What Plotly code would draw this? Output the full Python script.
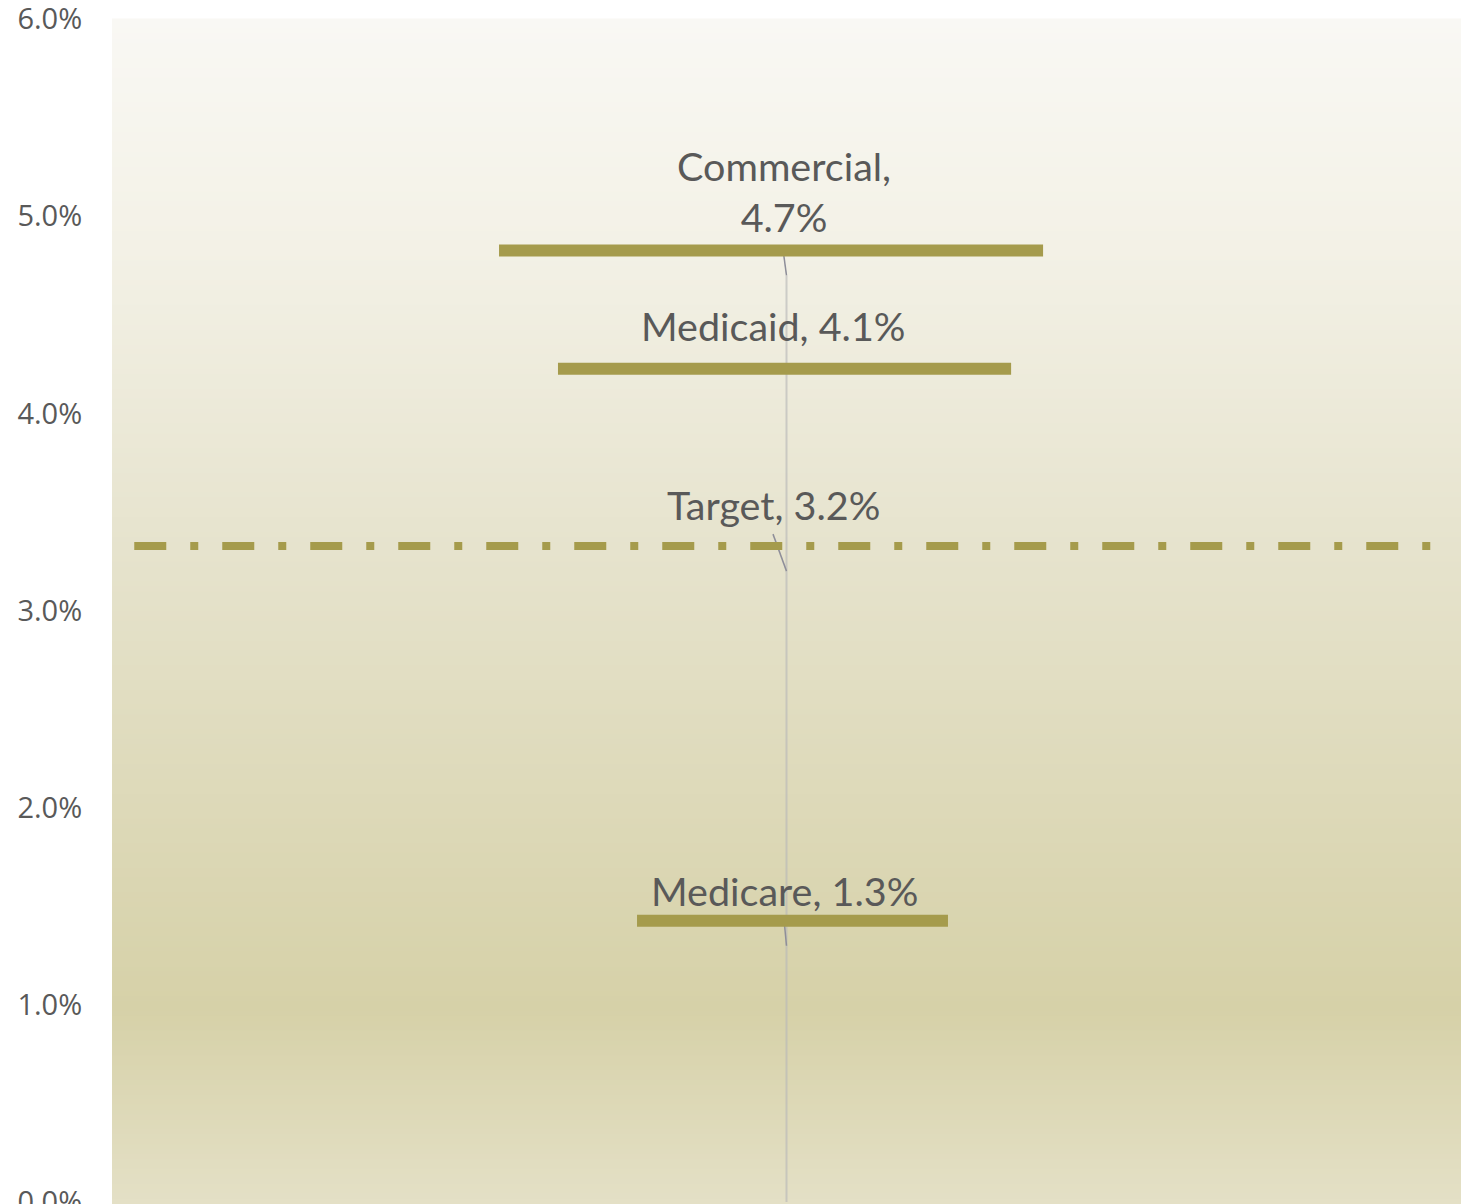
import plotly.graph_objects as go

# Growth rates by payer (percent)
payers = ["Commercial", "Medicaid", "Medicare"]
growth = [4.7, 4.1, 1.3]
target_label = "Target"
target_value = 3.2
tick_values = [0, 1, 2, 3, 4, 5, 6]

# Styling: horizontal extent of each payer bar (fraction of plot width)
bar_extent = {
    "Commercial": (0.2869, 0.6902),
    "Medicaid": (0.3306, 0.6665),
    "Medicare": (0.3892, 0.6197),
}
# Label placement relative to the value point (pixels)
label_offset = {
    "Commercial": (-2.5, 84),
    "Medicaid": (-13, 68),
    "Medicare": (-2.5, 55),
    "Target": (-13, 67),
}
# Leader line start relative to the value point (pixels)
leader_start = {
    "Commercial": (-2.7, 20),
    "Medicare": (-2, 21),
    "Target": (-13.5, 37),
}

OLIVE = "#a59b4c"
TEXT = "#595959"
BAR_LIFT = 25
CENTER = 0.5

fig = go.Figure()

# invisible anchor trace so the axes exist
fig.add_trace(go.Scatter(x=[CENTER] * len(growth), y=growth, mode="markers",
                         marker=dict(opacity=0), hoverinfo="skip", showlegend=False))

shapes = []

# vertical gradient in the plot area
stops = [
    (0.000, (249, 248, 244)),
    (0.195, (243, 241, 230)),
    (0.448, (230, 227, 205)),
    (0.836, (214, 209, 168)),
    (1.000, (228, 224, 198)),
]


def grad_color(t):
    for (t0, c0), (t1, c1) in zip(stops[:-1], stops[1:]):
        if t0 <= t <= t1:
            f = (t - t0) / (t1 - t0) if t1 > t0 else 0
            return "rgb(%d,%d,%d)" % tuple(round(a + (b - a) * f) for a, b in zip(c0, c1))
    return "rgb(%d,%d,%d)" % stops[-1][1]


n_strips = 240
for i in range(n_strips):
    top = 1 - i / n_strips
    bot = 1 - (i + 1) / n_strips
    shapes.append(dict(type="rect", xref="paper", yref="paper", x0=0, x1=1,
                       y0=bot - 0.0005, y1=top + 0.0005, line=dict(width=0),
                       fillcolor=grad_color((i + 0.5) / n_strips), layer="below"))

# drop line from the highest value to zero
shapes.append(dict(type="line", xref="x", yref="y", x0=CENTER, x1=CENTER,
                   y0=0, y1=max(growth), line=dict(color="rgba(185,185,185,0.65)", width=2),
                   layer="below"))

# leader lines from labels to value points
leader_vals = dict(zip(payers, growth))
leader_vals[target_label] = target_value
for name, (dx, dy) in leader_start.items():
    shapes.append(dict(type="line", xref="x", yref="y",
                       xsizemode="pixel", xanchor=CENTER, x0=dx, x1=0,
                       ysizemode="pixel", yanchor=leader_vals[name], y0=dy, y1=0,
                       line=dict(color="#8e8e99", width=1.5), layer="below"))

# payer bars
for name, val in zip(payers, growth):
    x0, x1 = bar_extent[name]
    shapes.append(dict(type="line", xref="paper", yref="y", x0=x0, x1=x1,
                       ysizemode="pixel", yanchor=val, y0=BAR_LIFT, y1=BAR_LIFT,
                       line=dict(color=OLIVE, width=12), layer="above"))

# target line
shapes.append(dict(type="line", xref="paper", yref="y", x0=0.0165, x1=0.978,
                   ysizemode="pixel", yanchor=target_value, y0=BAR_LIFT, y1=BAR_LIFT,
                   line=dict(color=OLIVE, width=8, dash="32px,24px,8px,24px"),
                   layer="above"))

annotations = []
label_font = dict(family="Lato, 'Open Sans', sans-serif", size=39.5, color=TEXT)
labels = {
    "Commercial": "Commercial,<br>%.1f%%" % growth[0],
    "Medicaid": "Medicaid, %.1f%%" % growth[1],
    "Medicare": "Medicare, %.1f%%" % growth[2],
    "Target": "%s, %.1f%%" % (target_label, target_value),
}
for name, text in labels.items():
    dx, dy = label_offset[name]
    annotations.append(dict(x=CENTER, y=leader_vals[name], xref="x", yref="y",
                            text=text, showarrow=False, xanchor="center",
                            yanchor="middle", xshift=dx, yshift=dy,
                            font=label_font, align="center"))

fig.update_layout(
    width=1476, height=1204,
    margin=dict(l=112, r=15, t=19, b=0, autoexpand=False),
    paper_bgcolor="white",
    plot_bgcolor="white",
    shapes=shapes,
    annotations=annotations,
    showlegend=False,
    xaxis=dict(range=[0, 1], visible=False, fixedrange=True, automargin=False),
    yaxis=dict(range=[-0.0101, 6.0005], tickvals=tick_values,
               ticktext=["%.1f%%" % v for v in tick_values],
               showgrid=False, zeroline=False, showline=False,
               ticks="outside", ticklen=23, tickcolor="rgba(0,0,0,0)",
               ticklabeloverflow="allow", automargin=False,
               tickfont=dict(family="Open Sans", size=29, color=TEXT),
               fixedrange=True),
)

fig.write_html("out.html", config={"displayModeBar": False})
